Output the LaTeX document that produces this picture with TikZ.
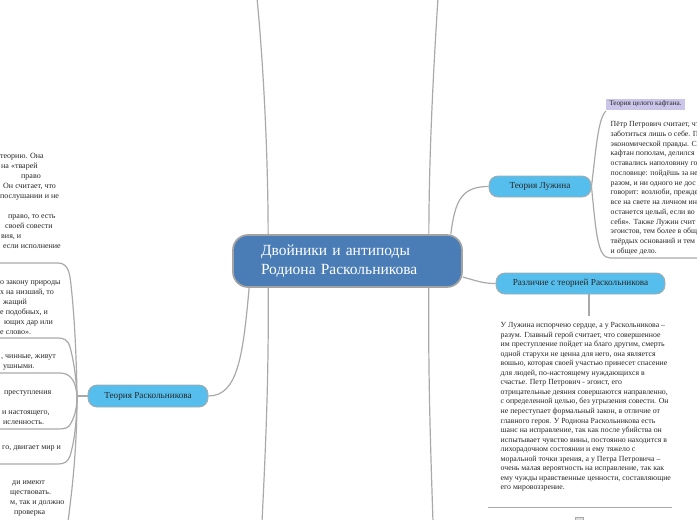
\documentclass[tikz,border=0pt]{standalone}
\usepackage{fontspec}
\setmainfont{Liberation Serif}
\usetikzlibrary{backgrounds}
\definecolor{linegray}{HTML}{A9A9A9}
\definecolor{centerblue}{HTML}{4A7DB6}
\definecolor{centerborder}{HTML}{A3A3A3}
\definecolor{topicblue}{HTML}{56BEEC}
\definecolor{topicborder}{HTML}{ABABAB}
\definecolor{lavender}{HTML}{CAC5E9}
\definecolor{textgray}{HTML}{262626}
\newcommand{\TopS}{\rule{0pt}{6pt}}
\begin{document}
\begin{tikzpicture}[x=1pt,y=-1pt,
  conn/.style={draw=linegray, line width=1.2pt},
  topic/.style={draw=topicborder, line width=0.9pt, fill=topicblue, rounded corners=9pt,
    inner sep=0pt, text=black!85, font=\fontsize{9.2}{11}\selectfont},
  blocktext/.style={anchor=north west, align=left, inner sep=0pt, text=textgray},
  lineleft/.style={anchor=base west, inner sep=0pt, text=textgray, font=\fontsize{8}{10}\selectfont},
  righttext/.style={blocktext, font=\fontsize{7.8}{9.6}\selectfont},
  underline/.style={draw=linegray, line width=1pt}
]
\useasboundingbox (0,0) rectangle (697,520);
\clip (0,0) rectangle (697,520);

% ---------- main nodes ----------
\node[draw=centerborder, line width=1.7pt, fill=centerblue, rounded corners=15pt,
  minimum width=229pt, minimum height=52pt, text width=173pt, inner xsep=28pt,
  inner ysep=0pt, align=left, text=white, font=\fontsize{15.5}{19.5}\selectfont]
  (center) at (347.5,261) {Двойники и антиподы\\Родиона Раскольникова};

\node[topic, minimum width=120pt, minimum height=22pt] (rask) at (148,396) {Теория Раскольникова};
\node[topic, minimum width=102pt, minimum height=21pt] (luzh) at (540,186.5) {Теория Лужина};
\node[topic, minimum width=169pt, minimum height=21pt] (razl) at (580.5,283.5) {Различие с теорией Раскольникова};

\node[fill=lavender, inner sep=0pt, minimum width=79pt, minimum height=11pt,
  font=\fontsize{7.2}{8}\selectfont, text=textgray] (kaftan) at (645.5,104) {Теория целого кафтана.};

% ---------- left text blocks (one node per visible line) ----------
\node[lineleft] (a1) at (0,158.5) {теорию. Она};
\node[lineleft] (a2) at (1,168.5) {на «тварей};
\node[lineleft] (a3) at (21,178.5) {право};
\node[lineleft] (a4) at (3,188.5) {Он считает, что};
\node[lineleft] (a5) at (0,198.5) {послушании и не};
\node[lineleft] (a6) at (8,218.5) {право, то есть};
\node[lineleft] (a7) at (5,228.5) {своей совести};
\node[lineleft] (a8) at (1,238.5) {вия, и};
\node[lineleft] (a9) at (3,248.5) {если исполнение};

\node[lineleft] (b1) at (0,284.5) {о закону природы};
\node[lineleft] (b2) at (0,294.5) {х на низший, то};
\node[lineleft] (b3) at (3,304.5) {жащий};
\node[lineleft] (b4) at (0,314.5) {е подобных, и};
\node[lineleft] (b5) at (4,324.5) {ющих дар или};
\node[lineleft] (b6) at (0,334.5) {е слово».};

\node[lineleft] (c1) at (1,358.5) {, чинные, живут};
\node[lineleft] (c2) at (3,368.5) {ушными.};

\node[lineleft] (d1) at (4,394.5) {преступления};
\node[lineleft] (d2) at (2,414.5) {и настоящего,};
\node[lineleft] (d3) at (3,424.5) {исленность.};

\node[lineleft] (e1) at (2,449.5) {го, двигает мир и};

\node[lineleft] (f1) at (12,484.5) {ди имеют};
\node[lineleft] (f2) at (10,494.5) {ществовать.};
\node[lineleft] (f3) at (10,504.5) {м, так и должно};
\node[lineleft] (f4) at (14,514.5) {проверка};

% ---------- right text blocks ----------
\node[righttext, font=\fontsize{7.8}{9.75}\selectfont] (luzhtext) at (610.5,120.5) {\TopS Пётр Петрович считает, что\\
заботиться лишь о себе. П\\
экономической правды. С\\
кафтан пополам, делился\\
оставались наполовину го\\
пословице: пойдёшь за не\\
разом, и ни одного не дос\\
говорит: возлюби, прежде\\
все на свете на личном ин\\
останется целый, если во\\
себя». Также Лужин счит\\
эгоистов, тем более в общ\\
твёрдых оснований и тем\\
и общее дело.};

\node[righttext, font=\fontsize{7.8}{9.53}\selectfont] (razltext) at (500.5,321.5) {\TopS У Лужина испорчено сердце, а у Раскольникова –\\
разум. Главный герой считает, что совершенное\\
им преступление пойдет на благо другим, смерть\\
одной старухи не ценна для него, она является\\
вошью, которая своей участью принесет спасение\\
для людей, по-настоящему нуждающихся в\\
счастье. Петр Петрович - эгоист, его\\
отрицательные деяния совершаются направленно,\\
с определенной целью, без угрызения совести. Он\\
не переступает формальный закон, в отличие от\\
главного героя. У Родиона Раскольникова есть\\
шанс на исправление, так как после убийства он\\
испытывает чувство вины, постоянно находится в\\
лихорадочном состоянии и ему тяжело с\\
моральной точки зрения, а у Петра Петровича –\\
очень малая вероятность на исправление, так как\\
ему чужды нравственные ценности, составляющие\\
его мировоззрение.};

% ---------- free ends ----------
\coordinate (topL) at (257,-2);
\coordinate (topR) at (438,-2);
\coordinate (botL) at (262,522);
\coordinate (botR) at (433,522);
\coordinate (jn) at (77,396);
\coordinate (fEnd) at (68,522);
\coordinate (lzTop) at (606,111);
\coordinate (lzBot) at (610,258);
\coordinate (lzEnd) at (699,258);
\coordinate (razlTop) at (589,316);

\begin{scope}[on background layer]
% center connectors
\draw[conn] ([xshift=36pt]center.north west) .. controls (268,150) and (263,60) .. (topL);
\draw[conn] ([xshift=-34pt]center.north east) .. controls (429,150) and (434,60) .. (topR);
\draw[conn] ([xshift=36pt]center.south west) .. controls (269,380) and (265,460) .. (botL);
\draw[conn] ([xshift=-34pt]center.south east) .. controls (428,380) and (431,460) .. (botR);
\draw[conn] ([xshift=17pt]center.south west) .. controls (243,355) and (238,396) .. (rask.east);
\draw[conn] ([xshift=-12pt]center.north east) .. controls (455,200) and (462,186.5) .. (luzh.west);
\draw[conn] ([yshift=-16pt]center.east) .. controls (480,282) and (485,283.5) .. (razl.west);

% Luzhin bracket
\draw[conn] (luzh.east) .. controls (596,150) and (598,118) .. (lzTop);
\draw[conn] (luzh.east) .. controls (596,230) and (597,258) .. (lzBot) -- (lzEnd);

% difference
\draw[conn] (razl.south -| razlTop) -- (razlTop);
\draw[underline] (488,507) -- (672,507);
\draw[draw=linegray, line width=0.9pt, fill=linegray!40] (575,517.5) rectangle (583,525);

% Raskolnikov branches
\draw[conn] (rask.west) -- (jn);
\draw[conn] (jn) .. controls (76,330) and (72,292) .. (70,277) .. controls (68,266) and (64,263) .. (58,263) -- (-2,263);
\draw[conn] (jn) .. controls (76,372) and (72,354) .. (70,347) .. controls (68,340) and (64,338) .. (58,338) -- (-2,338);
\draw[conn] (jn) .. controls (76,382) and (71,373) .. (60,373) -- (-2,373);
\draw[conn] (jn) .. controls (77,412) and (73,419) .. (71,423) .. controls (69,428) and (65,429) .. (58,429) -- (-2,429);
\draw[conn] (jn) .. controls (77,430) and (72,450) .. (70,456) .. controls (68,462) and (64,464) .. (58,464) -- (-2,464);
\draw[conn] (jn) .. controls (77,450) and (72,490) .. (fEnd);
\end{scope}
\end{tikzpicture}
\end{document}
